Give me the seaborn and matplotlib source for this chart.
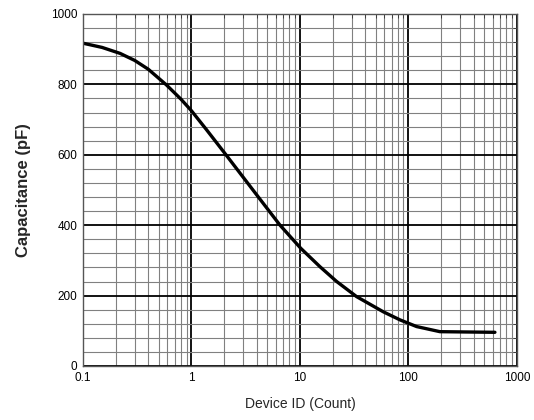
import numpy as np
import pandas as pd
import matplotlib
matplotlib.use('Agg')
import matplotlib.pyplot as plt
import matplotlib.ticker as mticker
import seaborn as sns

# values
device_count = [0.1, 0.15, 0.22, 0.3, 0.4, 0.59, 0.8, 1.0, 1.37, 2.08, 3.0, 4.28,
                6.55, 10.2, 15.3, 21.8, 33.3, 58.6, 83.6, 119, 195, 344, 627]
capacitance = [917, 905, 888, 868, 843, 798, 758, 725, 672, 600, 536, 474,
               400, 334, 282, 240, 197, 154, 131, 112, 97.5, 96.6, 95.7]

x_ticks = [0.1, 1, 10, 100, 1000]
x_tick_labels = ['0.1', '1', '10', '100', '1000']
y_ticks = [0, 200, 400, 600, 800, 1000]

df = pd.DataFrame({'Device ID (Count)': device_count, 'Capacitance (pF)': capacitance})

sns.set_style('white')
plt.rcParams['font.family'] = ['Liberation Sans', 'DejaVu Sans']

fig = plt.figure(figsize=(5.34, 4.2), dpi=100)
ax = fig.add_axes([0.1554, 0.1286, 0.8126, 0.8381])

ax.set_xscale('log')
ax.set_xlim(0.1, 1000)
ax.set_ylim(0, 1000)

# grid
ax.xaxis.set_major_locator(mticker.FixedLocator(x_ticks))
ax.xaxis.set_minor_locator(mticker.LogLocator(base=10, subs=np.arange(2, 10)))
ax.xaxis.set_minor_formatter(mticker.NullFormatter())
ax.set_xticklabels(x_tick_labels)
ax.yaxis.set_major_locator(mticker.FixedLocator(y_ticks))
ax.yaxis.set_minor_locator(mticker.MultipleLocator(40))
ax.grid(which='major', color='black', linewidth=1.3)
ax.grid(which='minor', color='#808080', linewidth=0.8)
ax.set_axisbelow(True)

sns.lineplot(data=df, x='Device ID (Count)', y='Capacitance (pF)', ax=ax,
             color='black', linewidth=2.4)

for s in ax.spines.values():
    s.set_visible(True)
    s.set_color('#555555')
    s.set_linewidth(1.0)

ax.tick_params(which='both', direction='in', top=True, right=True,
               colors='#333333', labelcolor='black', labelsize=8.5)
ax.tick_params(which='major', length=0, pad=4)
ax.tick_params(which='minor', length=3)

ax.set_xlabel('Device ID (Count)', fontsize=10, labelpad=10)
ax.set_ylabel('Capacitance (pF)', fontsize=12, fontweight='bold', labelpad=14)

fig.savefig('out.png', dpi=100)
